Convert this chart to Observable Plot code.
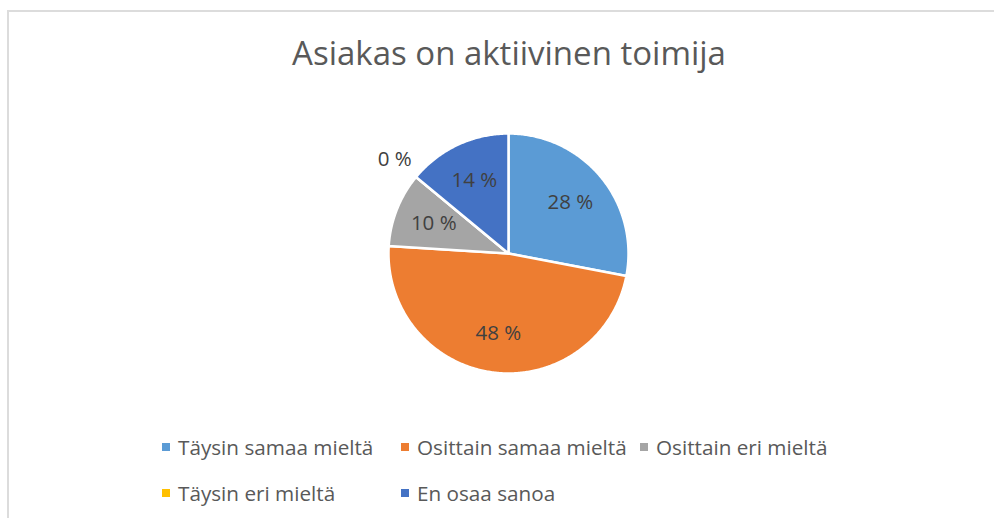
<!DOCTYPE html>
<html>
<head>
<meta charset="utf-8">
<script src="https://cdn.jsdelivr.net/npm/d3@7"></script>
<script src="https://cdn.jsdelivr.net/npm/@observablehq/plot@0.6"></script>
<style>
  html, body { margin: 0; padding: 0; background: #fff; }
  body { width: 994px; height: 518px; position: relative; overflow: hidden; font-family: "Open Sans", sans-serif; }
  #frame { position: absolute; left: 7px; top: 10px; width: 1100px; height: 700px; border: 2px solid #dcdcdc; box-sizing: border-box; }
  #title { position: absolute; left: 0; width: 1018px; top: 33px; text-align: center; font-size: 33px; color: #595959; line-height: 40px; white-space: nowrap; }
  #pie { position: absolute; left: 328px; top: 73px; }
  .leg { position: absolute; display: flex; align-items: center; font-size: 20.7px; color: #595959; white-space: nowrap; line-height: 26px; }
  .leg .sw { width: 8px; height: 8px; margin-right: 8px; flex: none; }
</style>
</head>
<body>
<div id="frame"></div>
<div id="title">Asiakas on aktiivinen toimija</div>
<div id="pie"></div>
<div id="legend"></div>
<script>
const categories = ["Täysin samaa mieltä", "Osittain samaa mieltä", "Osittain eri mieltä", "Täysin eri mieltä", "En osaa sanoa"];
const values = [28, 48, 10, 0, 14];
const colors = ["#5B9BD5", "#ED7D31", "#A5A5A5", "#FFC000", "#4472C4"];

// Build slice outlines (center -> arc -> center) from the values
const total = d3.sum(values);
const pts = [];
const labels = [];
let acc = 0;
categories.forEach((c, i) => {
  const a0 = acc / total * 2 * Math.PI;
  acc += values[i];
  const a1 = acc / total * 2 * Math.PI;
  const n = Math.max(2, Math.ceil((a1 - a0) / 0.01));
  pts.push({cat: c, x: 0, y: 0});
  for (let k = 0; k <= n; k++) {
    const a = a0 + (a1 - a0) * k / n;
    pts.push({cat: c, x: Math.sin(a), y: Math.cos(a)});
  }
  pts.push({cat: c, x: 0, y: 0});
  const am = (a0 + a1) / 2;
  const rr = values[i] === 0 ? 1.23 : 0.67;
  labels.push({cat: c, x: rr * Math.sin(am), y: rr * Math.cos(am), text: values[i] + " %"});
});

const S = 360, R = 120;
const half = S / 2 / R;
const chart = Plot.plot({
  width: S, height: S, margin: 0,
  x: {domain: [-half, half], axis: null},
  y: {domain: [-half, half], axis: null},
  color: {domain: categories, range: colors},
  style: {background: "transparent", overflow: "visible"},
  marks: [
    Plot.line(pts, {x: "x", y: "y", z: "cat", fill: "cat", stroke: "white", strokeWidth: 2.5, strokeLinejoin: "round", curve: "linear"}),
    Plot.text(labels, {x: "x", y: "y", text: "text", fill: "#404040", fontSize: 20.5, fontFamily: "Open Sans"})
  ]
});
document.getElementById("pie").appendChild(chart);

// Legend (HTML)
const colX = [162, 401, 640];
const rowY = [434, 480];
const leg = document.getElementById("legend");
categories.forEach((c, i) => {
  const el = document.createElement("div");
  el.className = "leg";
  el.style.left = colX[i % 3] + "px";
  el.style.top = rowY[Math.floor(i / 3)] + "px";
  const sw = document.createElement("span");
  sw.className = "sw";
  sw.style.background = colors[i];
  el.appendChild(sw);
  el.appendChild(document.createTextNode(c));
  leg.appendChild(el);
});
</script>
</body>
</html>
